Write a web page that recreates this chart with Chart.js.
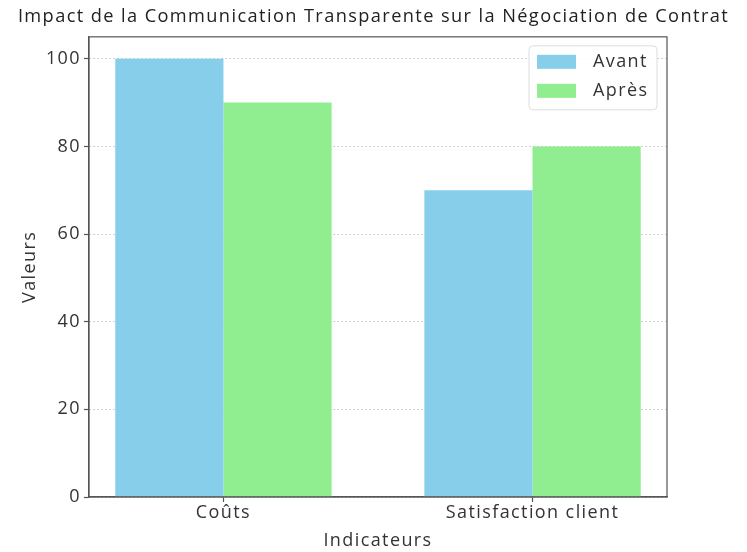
<!DOCTYPE html>
<html lang="fr">
<head>
<meta charset="utf-8">
<title>Impact de la Communication Transparente</title>
<script src="https://cdn.jsdelivr.net/npm/chart.js@4/dist/chart.umd.min.js"></script>
<style>
  html, body { margin: 0; padding: 0; background: #fff; }
  #wrap { width: 747px; height: 552px; }
</style>
</head>
<body>
<div id="wrap"><canvas id="c" width="747" height="552"></canvas></div>
<script>
"use strict";

// Données
const categories = ["Coûts", "Satisfaction client"];
const avant = [100, 70];
const apres = [90, 80];
const yTicks = [0, 20, 40, 60, 80, 100];

const FONT = "'Open Sans', sans-serif";
const INK = "#333";
const SPACING = "1.4px"; // la police d'origine est plus large

// Espacement des lettres pour se rapprocher de la chasse de l'original
const spacing = {
  id: "spacing",
  beforeUpdate(chart) { chart.ctx.letterSpacing = SPACING; },
  beforeDraw(chart) { chart.ctx.letterSpacing = SPACING; },
};

// Cadre complet (les 4 côtés) autour de la zone de tracé
const frame = {
  id: "frame",
  afterDraw(chart) {
    const { ctx, chartArea: a } = chart;
    ctx.save();
    ctx.strokeStyle = "#555";
    ctx.lineWidth = 1.2;
    ctx.strokeRect(a.left, a.top, a.right - a.left, a.bottom - a.top);
    ctx.restore();
  },
};

// Légende à l'intérieur du tracé, en haut à droite
const innerLegend = {
  id: "innerLegend",
  afterDraw(chart) {
    const { ctx, chartArea: a } = chart;
    const sets = chart.data.datasets;
    const w = 128, h = 64;
    const x = a.right - 10 - w, y = a.top + 9;
    ctx.save();
    ctx.fillStyle = "rgba(255,255,255,0.85)";
    ctx.strokeStyle = "#ddd";
    ctx.lineWidth = 1;
    ctx.beginPath();
    ctx.roundRect(x, y, w, h, 4);
    ctx.fill();
    ctx.stroke();
    ctx.font = "18px " + FONT;
    ctx.textBaseline = "middle";
    sets.forEach((ds, i) => {
      const cy = y + 16 + i * 29;
      ctx.fillStyle = ds.backgroundColor;
      ctx.fillRect(x + 8, cy - 7, 39, 14);
      ctx.fillStyle = INK;
      ctx.fillText(ds.label, x + 64, cy);
    });
    ctx.restore();
  },
};

new Chart(document.getElementById("c"), {
  type: "bar",
  data: {
    datasets: [
      {
        label: "Avant",
        data: avant.map((v, i) => ({ x: i, y: v })),
        backgroundColor: "#87CEEB",
      },
      {
        label: "Après",
        data: apres.map((v, i) => ({ x: i, y: v })),
        backgroundColor: "#90EE90",
      },
    ],
  },
  options: {
    responsive: false,
    animation: false,
    layout: { padding: 0 },
    datasets: { bar: { categoryPercentage: 0.7, barPercentage: 1, borderWidth: 0 } },
    plugins: {
      legend: { display: false },
      tooltip: { enabled: false },
      title: {
        display: true,
        text: "Impact de la Communication Transparente sur la Négociation de Contrat",
        color: "#222",
        font: { family: FONT, size: 18.2, weight: "normal" },
        padding: { top: 6, bottom: 9 },
      },
    },
    scales: {
      x: {
        type: "linear",
        offset: false,
        min: -0.435,
        max: 1.435,
        afterBuildTicks: (s) => { s.ticks = categories.map((_, i) => ({ value: i })); },
        afterFit: (s) => { s.height = 55; },
        grid: { offset: false, drawOnChartArea: false, tickLength: 5, tickColor: "#555", tickWidth: 1.2 },
        border: { color: "#555", width: 1.2 },
        ticks: {
          color: INK,
          padding: 0,
          autoSkip: false,
          maxRotation: 0,
          font: { family: FONT, size: 18 },
          callback: (v) => categories[v],
        },
        title: {
          display: true,
          text: "Indicateurs",
          color: INK,
          font: { family: FONT, size: 18 },
          padding: { top: 0, bottom: 0 },
        },
      },
      y: {
        min: 0,
        max: 105,
        afterBuildTicks: (s) => { s.ticks = yTicks.map((v) => ({ value: v })); },
        afterFit: (s) => { s.width = 89; },
        grid: { color: "#cfcfcf", lineWidth: 1, tickLength: 5, tickColor: "#555", tickWidth: 1.2 },
        border: { color: "#555", width: 1.2, dash: [2, 2] },
        ticks: {
          color: INK,
          padding: 3,
          font: { family: FONT, size: 18 },
        },
        title: {
          display: true,
          text: "Valeurs",
          color: INK,
          font: { family: FONT, size: 18 },
          padding: { top: 19, bottom: 0 },
        },
      },
      // Axe droit vide : ne sert qu'à réserver la marge de droite
      yRight: {
        position: "right",
        min: 0,
        max: 105,
        afterFit: (s) => { s.width = 80; },
        grid: { display: false },
        border: { display: false },
        ticks: { display: false },
      },
    },
  },
  plugins: [spacing, frame, innerLegend],
});
</script>
</body>
</html>
